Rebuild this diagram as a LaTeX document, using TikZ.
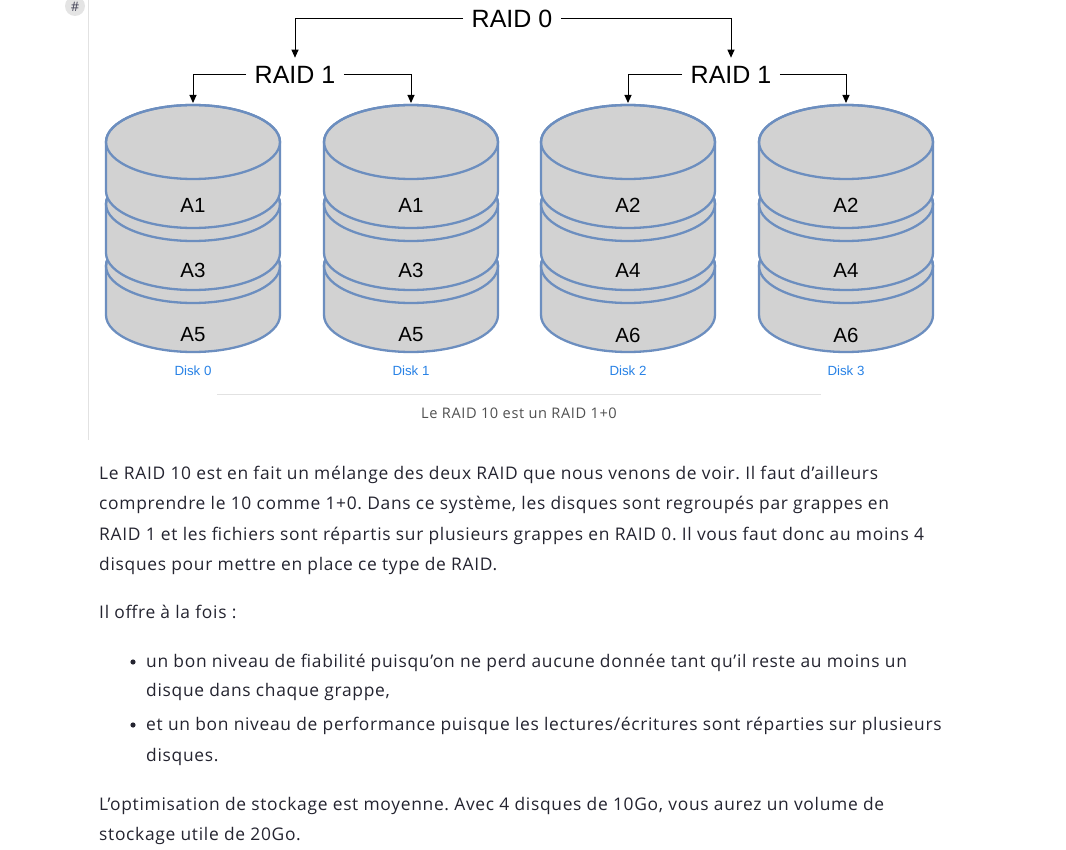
\documentclass[tikz,border=0pt]{standalone}
\usepackage{fontspec}
\setmainfont{Open Sans}
\newfontfamily\bodyf[LetterSpace=4]{Open Sans}
\newfontfamily\arialf{Liberation Sans}
\usetikzlibrary{arrows.meta}
\frenchspacing
\definecolor{diskfill}{RGB}{210,210,210}
\definecolor{diskline}{RGB}{108,142,191}
\definecolor{disklabel}{RGB}{40,130,230}
\definecolor{bodytext}{RGB}{36,36,48}
\definecolor{captext}{RGB}{80,80,80}
\definecolor{rulegray}{RGB}{226,226,226}
\definecolor{badgefill}{RGB}{228,228,228}
\definecolor{badgetext}{RGB}{70,70,90}
\tikzset{
  x=1pt, y=-1pt,
  raidlabel/.style={font=\arialf\fontsize{25}{28}\selectfont, inner sep=8.5pt},
  conn/.style={draw=black, line width=1pt, -{Triangle[length=8pt,width=7pt]}},
  dlabel/.style={font=\arialf\fontsize{20.5}{23}\selectfont},
  diskname/.style={font=\arialf\fontsize{13.3}{15}\selectfont, text=disklabel},
  bodyline/.style={anchor=base west, inner sep=0pt, font=\bodyf\fontsize{17.4}{20}\selectfont, text=bodytext},
  layer/.style={fill=diskfill, draw=diskline, line width=2.3pt},
}
\newcommand{\disklayer}[2]{%
  \path[layer] (#1-87,#2) -- (#1-87,#2+49)
    arc[start angle=180, end angle=360, x radius=87pt, y radius=37pt]
    -- (#1+87,#2)
    arc[start angle=0, end angle=180, x radius=87pt, y radius=37pt] -- cycle;
  \draw[diskline, line width=2.3pt] (#1,#2) ellipse[x radius=87pt, y radius=37pt];
}
\newcommand{\diskstack}[5]{%
  \disklayer{#1}{266}
  \disklayer{#1}{204}
  \disklayer{#1}{142}
  \node[dlabel] (#5a) at (#1,205) {#2};
  \node[dlabel] (#5b) at (#1,270) {#3};
  \node[dlabel] (#5c) at (#1,335) {#4};
  \coordinate (#5top) at (#1,103);
}
\begin{document}
\begin{tikzpicture}
\useasboundingbox (0,0) rectangle (1066,850);
\fill[white] (0,0) rectangle (1066,850);
% left rule and hash badge
\draw[rulegray, line width=1pt] (88,0) -- (88,440);
\fill[badgefill] (75,6) circle[radius=10pt];
\node[font=\fontsize{13}{15}\selectfont, text=badgetext, inner sep=0pt] (hash) at (75,6.5) {\#};
% disks
\diskstack{193}{A1}{A3}{A5}{d0}
\diskstack{411}{A1}{A3}{A5}{d1}
\diskstack{628}{A2}{A4}{A6}{d2}
\diskstack{846}{A2}{A4}{A6}{d3}
\node[diskname] (n0) at (193,371) {Disk 0};
\node[diskname] (n1) at (411,371) {Disk 1};
\node[diskname] (n2) at (628,371) {Disk 2};
\node[diskname] (n3) at (846,371) {Disk 3};
% raid labels
\node[raidlabel] (r0) at (512,19) {RAID 0};
\node[raidlabel] (r1a) at (295,75) {RAID 1};
\node[raidlabel] (r1b) at (731,75) {RAID 1};
\draw[conn] (r0.west) -| (r1a.north);
\draw[conn] (r0.east) -| (r1b.north);
\draw[conn] (r1a.west) -| (d0top);
\draw[conn] (r1a.east) -| (d1top);
\draw[conn] (r1b.west) -| (d2top);
\draw[conn] (r1b.east) -| (d3top);
% caption
\coordinate (capl) at (217,394);
\coordinate (capr) at (821,394);
\draw[rulegray, line width=1pt] (capl) -- (capr);
\node[font=\bodyf\fontsize{14.6}{16}\selectfont, text=captext] (cap) at (519,413) {Le RAID 10 est un RAID 1+0};
% body text
\node[bodyline] (l1) at (99,479) {Le RAID 10 est en fait un mélange des deux RAID que nous venons de voir. Il faut d’ailleurs};
\node[bodyline] (l2) at (99,509) {comprendre le 10 comme 1+0. Dans ce système, les disques sont regroupés par grappes en};
\node[bodyline] (l3) at (99,540) {RAID 1 et les fichiers sont répartis sur plusieurs grappes en RAID 0. Il vous faut donc au moins 4};
\node[bodyline] (l4) at (99,570) {disques pour mettre en place ce type de RAID.};
\node[bodyline] (l5) at (99,618) {Il offre à la fois :};
\fill[bodytext] (133,662) circle[radius=2.6pt];
\node[bodyline] (l6) at (146,667) {un bon niveau de fiabilité puisqu’on ne perd aucune donnée tant qu’il reste au moins un};
\node[bodyline] (l7) at (146,696) {disque dans chaque grappe,};
\fill[bodytext] (133,725) circle[radius=2.6pt];
\node[bodyline] (l8) at (146,730) {et un bon niveau de performance puisque les lectures/écritures sont réparties sur plusieurs};
\node[bodyline] (l9) at (146,761) {disques.};
\node[bodyline] (l10) at (99,810) {L’optimisation de stockage est moyenne. Avec 4 disques de 10Go, vous aurez un volume de};
\node[bodyline] (l11) at (99,840) {stockage utile de 20Go.};
\end{tikzpicture}
\end{document}
